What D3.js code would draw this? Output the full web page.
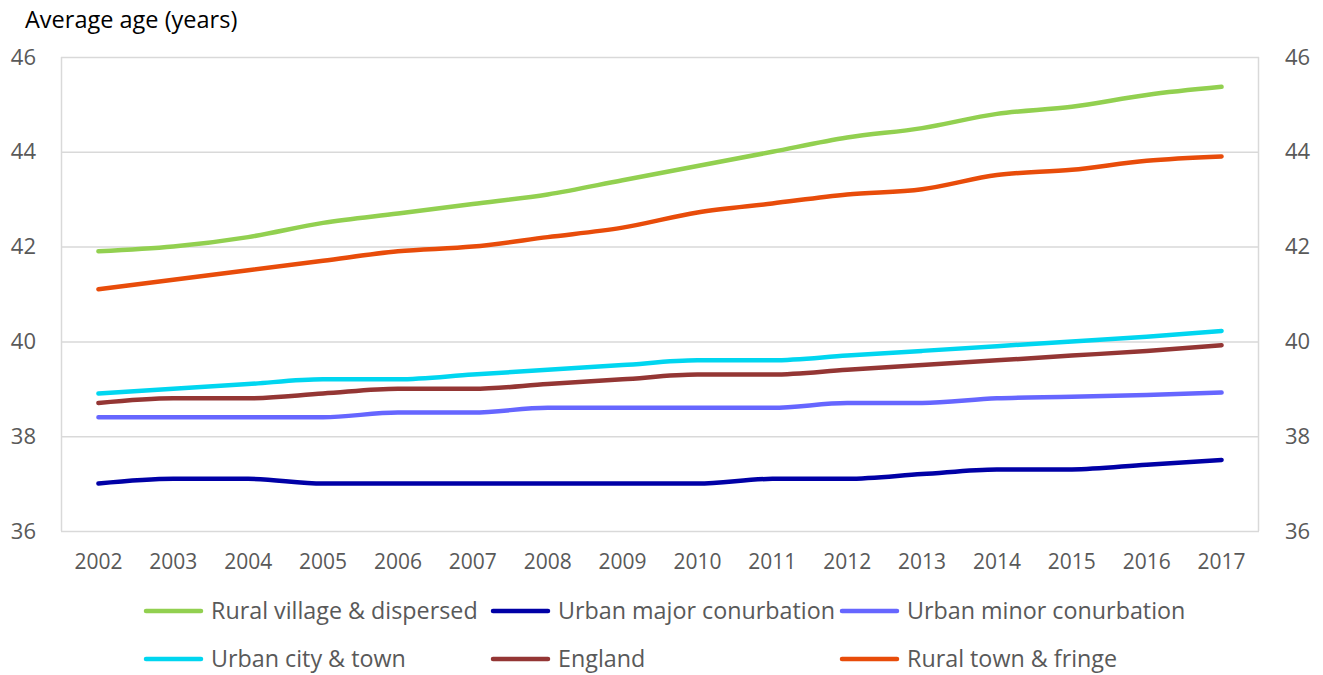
<!DOCTYPE html>
<html>
<head>
<meta charset="utf-8">
<script src="https://cdn.jsdelivr.net/npm/d3@7"></script>
<style>
  html, body { margin: 0; padding: 0; background: #fff; }
  svg { display: block; font-family: "Open Sans", Lato, sans-serif; }
</style>
</head>
<body>
<svg id="chart" width="1323" height="675"></svg>
<script>
const years = ["2002","2003","2004","2005","2006","2007","2008","2009","2010","2011","2012","2013","2014","2015","2016","2017"];
const yTicks = [36, 38, 40, 42, 44, 46];

const ruralVillage   = [41.9, 42.0, 42.2, 42.5, 42.7, 42.9, 43.1, 43.4, 43.7, 44.0, 44.3, 44.5, 44.8, 44.95, 45.2, 45.37];
const urbanMajor     = [37.0, 37.1, 37.1, 37.0, 37.0, 37.0, 37.0, 37.0, 37.0, 37.1, 37.1, 37.2, 37.3, 37.3, 37.4, 37.5];
const urbanMinor     = [38.4, 38.4, 38.4, 38.4, 38.5, 38.5, 38.6, 38.6, 38.6, 38.6, 38.7, 38.7, 38.8, 38.83, 38.87, 38.92];
const urbanCity      = [38.9, 39.0, 39.1, 39.2, 39.2, 39.3, 39.4, 39.5, 39.6, 39.6, 39.7, 39.8, 39.9, 40.0, 40.1, 40.22];
const england        = [38.7, 38.8, 38.8, 38.9, 39.0, 39.0, 39.1, 39.2, 39.3, 39.3, 39.4, 39.5, 39.6, 39.7, 39.8, 39.92];
const ruralTown      = [41.1, 41.3, 41.5, 41.7, 41.9, 42.0, 42.2, 42.4, 42.72, 42.91, 43.1, 43.21, 43.51, 43.62, 43.81, 43.9];

const seriesNames  = ["Rural village & dispersed", "Urban major conurbation", "Urban minor conurbation", "Urban city & town", "England", "Rural town & fringe"];
const seriesValues = [ruralVillage, urbanMajor, urbanMinor, urbanCity, england, ruralTown];
const seriesColors = ["#92D050", "#0000A6", "#6666FF", "#00D6F0", "#943634", "#E84C0A"];

const svg = d3.select("#chart");
const plot = { left: 61, right: 1259, top: 57, bottom: 531 };
const fontFamily = "'Open Sans', Lato, sans-serif";

const x = d3.scaleBand().domain(years).range([plot.left, plot.right]);
const y = d3.scaleLinear().domain([36, 46]).range([plot.bottom, plot.top]);

// gridlines
svg.append("g")
  .selectAll("line")
  .data(yTicks)
  .join("line")
  .attr("x1", plot.left).attr("x2", plot.right)
  .attr("y1", d => y(d) + 0.5).attr("y2", d => y(d) + 0.5)
  .attr("stroke", "#D9D9D9").attr("stroke-width", 1.5);

// frame sides
svg.append("line").attr("x1", plot.left + 0.5).attr("x2", plot.left + 0.5)
  .attr("y1", y(46)).attr("y2", y(36)).attr("stroke", "#D9D9D9").attr("stroke-width", 1.5);
svg.append("line").attr("x1", plot.right - 0.5).attr("x2", plot.right - 0.5)
  .attr("y1", y(46)).attr("y2", y(36)).attr("stroke", "#D9D9D9").attr("stroke-width", 1.5);

// left axis
const leftAxis = svg.append("g")
  .attr("transform", `translate(${plot.left},0)`)
  .call(d3.axisLeft(y).tickValues(yTicks).tickSize(0).tickPadding(25).tickFormat(d3.format("d")));
leftAxis.select(".domain").remove();
leftAxis.selectAll("text").attr("fill", "#595959").attr("font-size", 22).attr("font-family", fontFamily);

// right axis
const rightAxis = svg.append("g")
  .attr("transform", `translate(${plot.right},0)`)
  .call(d3.axisRight(y).tickValues(yTicks).tickSize(0).tickPadding(26).tickFormat(d3.format("d")));
rightAxis.select(".domain").remove();
rightAxis.selectAll("text").attr("fill", "#595959").attr("font-size", 22).attr("font-family", fontFamily);

// bottom axis
const bottomAxis = svg.append("g")
  .attr("transform", `translate(0,${plot.bottom})`)
  .call(d3.axisBottom(x).tickSize(0).tickPadding(23));
bottomAxis.select(".domain").remove();
bottomAxis.selectAll("text").attr("fill", "#595959").attr("font-size", 21).attr("font-family", fontFamily);

// lines
const line = d3.line()
  .x((d, i) => x(years[i]) + x.bandwidth() / 2)
  .y(d => y(d))
  .curve(d3.curveMonotoneX);

svg.append("g")
  .selectAll("path")
  .data(seriesValues)
  .join("path")
  .attr("d", d => line(d))
  .attr("fill", "none")
  .attr("stroke", (d, i) => seriesColors[i])
  .attr("stroke-width", 4.5)
  .attr("stroke-linecap", "round")
  .attr("stroke-linejoin", "round");

// title
svg.append("text")
  .attr("x", 25).attr("y", 28)
  .attr("font-size", 23.5)
  .attr("font-family", fontFamily)
  .attr("fill", "#000")
  .text("Average age (years)");

// legend
const legendCols = [146, 493, 842];
const legendRows = [611, 659];
const legend = svg.append("g");
seriesNames.forEach((name, i) => {
  const cx = legendCols[i % 3];
  const cy = legendRows[Math.floor(i / 3)];
  legend.append("line")
    .attr("x1", cx).attr("x2", cx + 55)
    .attr("y1", cy).attr("y2", cy)
    .attr("stroke", seriesColors[i]).attr("stroke-width", 4.5).attr("stroke-linecap", "round");
  legend.append("text")
    .attr("x", cx + 65).attr("y", cy)
    .attr("dy", "0.35em")
    .attr("font-size", 23.3)
    .attr("font-family", fontFamily)
    .attr("fill", "#595959")
    .text(name);
});
</script>
</body>
</html>
